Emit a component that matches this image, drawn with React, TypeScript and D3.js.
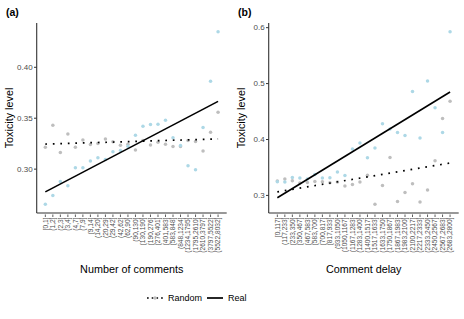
import * as d3 from "d3";

const commentBins = [
  "[0,1]", "(1,2]", "(2,3]", "(3,4]", "(4,7]", "(7,9]", "(9,14]", "(14,20]",
  "(20,29]", "(29,42]", "(42,62]", "(62,90]", "(90,130]", "(130,190]", "(190,276]",
  "(276,401]", "(401,583]", "(583,848]", "(848,1234]", "(1234,1795]", "(1795,2610]",
  "(2610,3797]", "(3797,5522]", "(5522,8032]",
];
const commentsReal = [
  0.2654, 0.2742, 0.2879, 0.2837, 0.3013, 0.3013, 0.3081, 0.3111, 0.3095, 0.317,
  0.3183, 0.3225, 0.3333, 0.3422, 0.3438, 0.3441, 0.348, 0.3307, 0.3232, 0.3032,
  0.2993, 0.3409, 0.3863, 0.435,
];
const commentsRandom = [
  0.3216, 0.3431, 0.3163, 0.3346, 0.3216, 0.3287, 0.3242, 0.3252, 0.3297, 0.3268,
  0.3235, 0.3245, 0.3189, 0.328, 0.3238, 0.3265, 0.3245, 0.3222, 0.3222, 0.3281,
  0.3271, 0.3179, 0.3363, 0.3559,
];

const delayBins = [
  "[0,117]", "(117,233]", "(233,350]", "(350,467]", "(467,583]", "(583,700]",
  "(700,817]", "(817,933]", "(933,1050]", "(1050,1167]", "(1167,1283]",
  "(1283,1400]", "(1400,1517]", "(1517,1633]", "(1633,1750]", "(1750,1867]",
  "(1867,1983]", "(1983,2100]", "(2100,2217]", "(2217,2333]", "(2333,2450]",
  "(2450,2567]", "(2567,2683]", "(2683,2800]",
];
const delayReal = [
  0.3245, 0.3239, 0.3321, 0.331, 0.3293, 0.3375, 0.331, 0.3316, 0.3418, 0.3357,
  0.383, 0.3936, 0.3673, 0.3846, 0.428, 0.4186, 0.4125, 0.4071, 0.4857, 0.4025,
  0.5048, 0.4566, 0.4125, 0.5929,
];
const delayRandom = [
  0.3257, 0.3293, 0.3262, 0.3221, 0.3232, 0.325, 0.3245, 0.3227, 0.3239, 0.3168,
  0.3196, 0.3239, 0.336, 0.284, 0.3179, 0.3679, 0.2893, 0.3054, 0.3209, 0.2882,
  0.3096, 0.362, 0.4375, 0.4686,
];

const commentTicks = [0.3, 0.35, 0.4];
const delayTicks = [0.3, 0.4, 0.5, 0.6];

const FONT = "'Liberation Sans', Arial, sans-serif";
const BLUE = "#add8e6";
const GREY = "#bebebe";

// straight lm fit over the bin index, like geom_smooth(method = "lm")
function fit(vals) {
  const n = vals.length;
  const mx = (n - 1) / 2;
  const my = d3.mean(vals);
  let sxy = 0, sxx = 0;
  vals.forEach((v, i) => {
    sxy += (i - mx) * (v - my);
    sxx += (i - mx) * (i - mx);
  });
  const b = sxy / sxx;
  return [my - b * mx, my + b * (n - 1 - mx)];
}

function Panel({ left, label, bins, real, random, xTitle, ticks, fmt }) {
  const axisX = left + 36.7;
  const top = 23;
  const bottom = 213;
  const x = d3.scalePoint().domain(bins).range([axisX, axisX + 190]).padding(1.15);
  const realFit = fit(real);
  const randFit = fit(random);
  const ext = d3.extent([...real, ...random, ...realFit, ...randFit]);
  const pad = (ext[1] - ext[0]) * 0.05;
  const y = d3.scaleLinear().domain([ext[0] - pad, ext[1] + pad]).range([bottom, top]);
  const first = bins[0];
  const last = bins[bins.length - 1];

  return (
    <g fontFamily={FONT}>
      <text x={left + 6} y={16} fontSize={10.5} fontWeight="bold">{label}</text>
      {random.map((v, i) => (
        <circle key={"g" + i} cx={x(bins[i])} cy={y(v)} r={1.75} fill={GREY} />
      ))}
      {real.map((v, i) => (
        <circle key={"b" + i} cx={x(bins[i])} cy={y(v)} r={1.75} fill={BLUE} />
      ))}
      <line x1={x(first)} x2={x(last)} y1={y(randFit[0])} y2={y(randFit[1])}
        stroke="#000" strokeWidth={1.7} strokeDasharray="1.7 5.8" />
      <line x1={x(first)} x2={x(last)} y1={y(realFit[0])} y2={y(realFit[1])}
        stroke="#000" strokeWidth={1.6} />
      <line x1={axisX} x2={axisX} y1={top} y2={bottom} stroke="#333" strokeWidth={1.1} />
      <line x1={axisX} x2={axisX + 190} y1={bottom} y2={bottom} stroke="#333" strokeWidth={1.1} />
      {ticks.map((t) => (
        <g key={t}>
          <line x1={axisX - 2.7} x2={axisX} y1={y(t)} y2={y(t)} stroke="#333" strokeWidth={1} />
          <text x={axisX - 4} y={y(t)} dy="0.35em" textAnchor="end" fontSize={8} fill="#4d4d4d">
            {fmt(t)}
          </text>
        </g>
      ))}
      {bins.map((b) => (
        <g key={b} transform={`translate(${x(b)},${bottom + 3.5}) rotate(-90)`}>
          <line x1={0} x2={2.5} y1={0} y2={0} stroke="#333" strokeWidth={0.8} transform="translate(-0.5,0)" />
          <text x={-1} y={0} dy="0.35em" textAnchor="end" fontSize={6.6} fill="#4d4d4d">{b}</text>
        </g>
      ))}
      <text transform={`translate(${left + 13},${(top + bottom) / 2}) rotate(-90)`}
        textAnchor="middle" fontSize={10.8}>Toxicity level</text>
      <text x={axisX + 95} y={273} textAnchor="middle" fontSize={10.8}>{xTitle}</text>
    </g>
  );
}

export default function App() {
  return (
    <svg width={464} height={319} style={{ position: "absolute", left: 0, top: 0, background: "#fff" }}>
      <Panel left={0} label="(a)" bins={commentBins} real={commentsReal} random={commentsRandom}
        xTitle="Number of comments" ticks={commentTicks} fmt={d3.format(".2f")} />
      <Panel left={232} label="(b)" bins={delayBins} real={delayReal} random={delayRandom}
        xTitle="Comment delay" ticks={delayTicks} fmt={d3.format(".1f")} />
      <g fontFamily={FONT} fontSize={9}>
        <line x1={147} x2={163} y1={298} y2={298} stroke="#000" strokeWidth={1.7} strokeDasharray="1.7 3" />
        <circle cx={155} cy={298} r={1.75} fill={GREY} />
        <text x={168} y={298} dy="0.35em">Random</text>
        <line x1={207} x2={223} y1={298} y2={298} stroke="#000" strokeWidth={1.7} />
        <text x={228} y={298} dy="0.35em">Real</text>
      </g>
    </svg>
  );
}
